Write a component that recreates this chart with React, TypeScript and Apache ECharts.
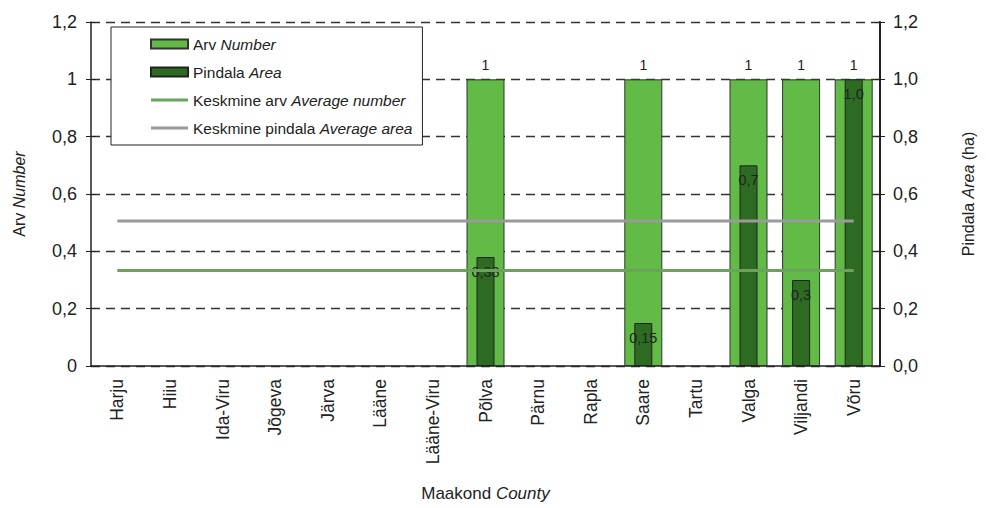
import React, { useEffect, useRef } from "react";
import * as echarts from "echarts";

const counties = ["Harju", "Hiiu", "Ida-Viru", "Jõgeva", "Järva", "Lääne", "Lääne-Viru", "Põlva", "Pärnu", "Rapla", "Saare", "Tartu", "Valga", "Viljandi", "Võru"];
const numberValues = [null, null, null, null, null, null, null, 1, null, null, 1, null, 1, 1, 1];
const areaValues = [null, null, null, null, null, null, null, 0.38, null, null, 0.15, null, 0.7, 0.3, 1.0];
const avgNumber = 0.333;
const avgArea = 0.506;
const leftTicks = ["0", "0,2", "0,4", "0,6", "0,8", "1", "1,2"];
const rightTicks = ["0,0", "0,2", "0,4", "0,6", "0,8", "1,0", "1,2"];

const seriesNames = ["Arv Number", "Pindala Area", "Keskmine arv Average number", "Keskmine pindala Average area"];
const legendRich: Record<string, string> = {
  "Arv Number": "{n|Arv }{i|Number}",
  "Pindala Area": "{n|Pindala }{i|Area}",
  "Keskmine arv Average number": "{n|Keskmine arv }{i|Average number}",
  "Keskmine pindala Average area": "{n|Keskmine pindala }{i|Average area}",
};

const FONT = "Liberation Sans, Arial, sans-serif";
const TXT = "#222";

function fmtArea(v: number) {
  return Number.isInteger(v) ? v.toFixed(1).replace(".", ",") : String(v).replace(".", ",");
}

function rich(size: number) {
  return {
    n: { fontSize: size, fontFamily: FONT, color: TXT },
    i: { fontSize: size, fontFamily: FONT, color: TXT, fontStyle: "italic" },
  };
}

const lineIcon = "path://M0,0H37V3H0Z";

export default function App() {
  const ref = useRef<HTMLDivElement>(null);
  useEffect(() => {
    if (!ref.current) return;
    const chart = echarts.init(ref.current, null, { renderer: "svg" });
    const tickIdx = (v: number) => Math.round(v / 0.2);
    const innerTickAxis = (position: string) => ({
      type: "value",
      position,
      min: 0,
      max: 1.2,
      interval: 0.2,
      axisLine: { show: false },
      axisTick: { show: true, inside: true, length: 5, lineStyle: { color: "#222" } },
      axisLabel: { show: false },
      splitLine: { show: false },
    });
    chart.setOption({
      animation: false,
      textStyle: { fontFamily: FONT },
      grid: { left: 91, right: 106, top: 22, bottom: 142 },
      legend: {
        orient: "vertical",
        left: 111,
        top: 27,
        padding: [8, 10, 8, 39],
        itemGap: 10,
        itemWidth: 37,
        itemHeight: 9,
        borderColor: "#222",
        borderWidth: 1,
        borderRadius: 0,
        backgroundColor: "#fff",
        data: [
          { name: seriesNames[0], icon: "rect" },
          { name: seriesNames[1], icon: "rect" },
          { name: seriesNames[2], icon: lineIcon },
          { name: seriesNames[3], icon: lineIcon },
        ],
        formatter: (name: string) => legendRich[name] || name,
        textStyle: {
          fontFamily: FONT,
          color: TXT,
          lineHeight: 18,
          rich: {
            n: { fontSize: 15.5, fontFamily: FONT, color: TXT, lineHeight: 18 },
            i: { fontSize: 15.5, fontFamily: FONT, color: TXT, fontStyle: "italic", lineHeight: 18 },
          },
        },
      },
      xAxis: [
        {
          type: "category",
          data: counties,
          boundaryGap: true,
          axisLine: { lineStyle: { color: "#222", width: 1.5 } },
          axisTick: { length: 6, lineStyle: { color: "#222" } },
          axisLabel: { rotate: 90, fontSize: 17.5, color: TXT, margin: 13, fontFamily: FONT },
          name: "{n|Maakond }{i|County}",
          nameLocation: "middle",
          nameGap: 119,
          nameTextStyle: { rich: rich(17) },
        },
        {
          type: "category",
          data: counties,
          show: false,
        },
      ],
      yAxis: [
        {
          type: "value",
          min: 0,
          max: 1.2,
          interval: 0.2,
          axisLine: { show: true, lineStyle: { color: "#222", width: 1.5 } },
          axisTick: { show: true, length: 5, lineStyle: { color: "#222" } },
          axisLabel: { fontSize: 18, color: TXT, margin: 14, fontFamily: FONT, formatter: (v: number) => leftTicks[tickIdx(v)] },
          splitLine: { show: true, lineStyle: { color: "#333", type: [9, 6], width: 1.3 } },
          name: "{n|Arv }{i|Number}",
          nameLocation: "middle",
          nameGap: 64,
          nameRotate: 90,
          nameTextStyle: { rich: rich(16) },
        },
        {
          type: "value",
          position: "right",
          min: 0,
          max: 1.2,
          interval: 0.2,
          axisLine: { show: true, lineStyle: { color: "#222", width: 2 } },
          axisTick: { show: true, length: 5, lineStyle: { color: "#222" } },
          axisLabel: { fontSize: 18, color: TXT, margin: 13, fontFamily: FONT, formatter: (v: number) => rightTicks[tickIdx(v)] },
          splitLine: { show: false },
          name: "{n|Pindala }{i|Area}{n| (ha)}",
          nameLocation: "middle",
          nameGap: 80,
          nameRotate: 90,
          nameTextStyle: { rich: rich(16) },
        },
        innerTickAxis("left"),
        innerTickAxis("right"),
      ],
      series: [
        {
          name: seriesNames[0],
          type: "bar",
          xAxisIndex: 0,
          yAxisIndex: 0,
          data: numberValues,
          barWidth: 38,
          itemStyle: { color: "#62bb46", borderColor: "#333", borderWidth: 1 },
          label: { show: true, position: "top", distance: 7, fontSize: 14, color: TXT, fontFamily: FONT },
          z: 2,
        },
        {
          name: seriesNames[1],
          type: "bar",
          xAxisIndex: 1,
          yAxisIndex: 1,
          data: areaValues,
          barWidth: 18,
          itemStyle: { color: "#2e6b22", borderColor: "#222", borderWidth: 1 },
          label: {
            show: true,
            position: "insideTop",
            distance: 7,
            fontSize: 14.5,
            color: TXT,
            fontFamily: FONT,
            formatter: (p: any) => fmtArea(p.value),
          },
          z: 3,
        },
        {
          name: seriesNames[2],
          type: "line",
          xAxisIndex: 0,
          yAxisIndex: 0,
          data: counties.map(() => avgNumber),
          symbol: "none",
          lineStyle: { color: "#6aa35a", width: 3 },
          itemStyle: { color: "#6aa35a" },
          z: 4,
        },
        {
          name: seriesNames[3],
          type: "line",
          xAxisIndex: 0,
          yAxisIndex: 1,
          data: counties.map(() => avgArea),
          symbol: "none",
          lineStyle: { color: "#9a9a9a", width: 3 },
          itemStyle: { color: "#9a9a9a" },
          z: 4,
        },
      ],
    });
    return () => chart.dispose();
  }, []);
  return <div ref={ref} style={{ position: "absolute", left: 0, top: 0, width: 986, height: 508 }} />;
}
